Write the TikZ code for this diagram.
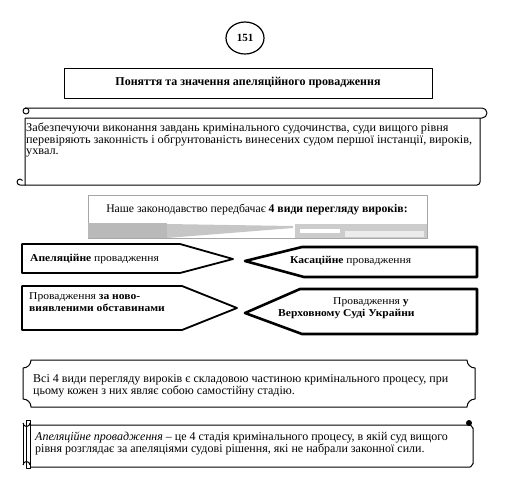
\documentclass[tikz,border=0pt]{standalone}
\usepackage{fontspec}
\setmainfont{Liberation Serif}
\newfontfamily\wideC[FakeStretch=1.1]{Liberation Serif}
\newfontfamily\wideD[FakeStretch=1.02]{Liberation Serif}
\begin{document}
\begin{tikzpicture}[x=1pt,y=-1pt,line join=round,
  thinedge/.style={draw=black,line width=1pt},
  penta/.style={draw=black,line width=1.8pt},
  pentathick/.style={draw=black,line width=2.6pt},
  bodytext/.style={font=\fontsize{12}{12}\selectfont,align=left,inner sep=0pt},
  boxtext/.style={font=\wideC\fontsize{10.5}{12}\selectfont,align=left,inner sep=0pt}]
\useasboundingbox (0,0) rectangle (510,477);
% page number
\draw[line width=1.2pt] (245,38) ellipse (19 and 16);
\node[font=\bfseries\fontsize{11}{11}\selectfont] (pg) at (245,38) {151};
% title
\draw[thinedge] (64,68) rectangle (432,98);
\node[font=\bfseries\fontsize{12}{12}\selectfont] (title) at (248,83) {Поняття та значення апеляційного провадження};
% scroll 1
\draw[thinedge] (25,118) -- (25,185) -- (477,185) to[out=0,in=-90] (480,182) -- (480,118);
\draw[thinedge] (25,108) -- (482,108) arc (-90:90:5) -- (25,118);
\draw[thinedge] (26,111) circle (3);
\draw[thinedge] (25,185) -- (20,185) arc (90:330:3);
\node[bodytext,font=\wideD\fontsize{12}{11.6}\selectfont,anchor=north west] (s1) at (26,123) {Забезпечуючи виконання завдань кримінального судочинства, суди вищого рівня\\перевіряють законність і обгрунтованість винесених судом першої інстанції, вироків,\\ухвал.};
% header
\draw[gray!70,line width=0.6pt] (88,195) rectangle (427,238);
\fill[gray!55] (88,223) rectangle (167,238);
\fill[gray!45] (167,224) -- (293,226) -- (293,228) -- (167,238) -- cycle;
\fill[gray!40] (295,224) rectangle (427,238);
\fill[white] (300,229) rectangle (340,233);
\fill[gray!15] (345,231) rectangle (424,237);
\node[font=\fontsize{11.7}{12}\selectfont] (hdr) at (257,210) {Наше законодавство передбачає \textbf{4 види перегляду вироків:}};
% pentagons
\draw[penta] (22,244) -- (180,244) -- (233,259) -- (180,273) -- (22,273) -- cycle;
\draw[penta] (22,286) -- (182,286) -- (237,308) -- (182,330) -- (22,330) -- cycle;
\draw[pentathick] (245,261) -- (302,247) -- (477,247) -- (477,277) -- (304,277) -- cycle;
\draw[pentathick] (245,313) -- (300,289) -- (477,289) -- (477,334) -- (302,334) -- cycle;
\node[boxtext,anchor=west] (p1) at (30,259) {\textbf{Апеляційне} провадження};
\node[boxtext,anchor=north west] (p2) at (29,292) {Провадження \textbf{за ново-}\\\textbf{виявленими обставинами}};
\node[boxtext,anchor=west] (p3) at (290,261) {\textbf{Касаційне} провадження};
\node[boxtext,anchor=north west] (p4) at (278,297) {\hspace*{55pt}Провадження \textbf{у}\\\textbf{Верховному Суді Украйни}};
% plaque
\draw[thinedge] (31,360) -- (467,360) arc (180:90:8) -- (475,399) arc (270:180:8) -- (31,407) arc (0:-90:8) -- (23,368) arc (90:0:8) -- cycle;
\node[bodytext,anchor=north west] (s3) at (33,374) {Всі 4 види перегляду вироків є складовою частиною кримінального процесу, при\\цьому кожен з них являє собою самостійну стадію.};
% scroll 4
\draw[thinedge] (30,425) -- (470,425) to[out=0,in=-90] (473,428) -- (473,464) to[out=90,in=0] (470,467) -- (30,467);
\draw[thinedge] (26,420) rectangle (30,468);
\draw[thinedge] (23,423) arc (180:0:3.5);
\draw[thinedge] (23,465) arc (180:360:3.5);
\draw[thinedge] (23,423) -- (23,465);
\fill (469,423) circle (3);
\node[bodytext,anchor=north west] (s4) at (35,432) {\textit{Апеляційне провадження} – це 4 стадія кримінального процесу, в якій суд вищого\\рівня розглядає за апеляціями судові рішення, які не набрали законної сили.};
\end{tikzpicture}
\end{document}
